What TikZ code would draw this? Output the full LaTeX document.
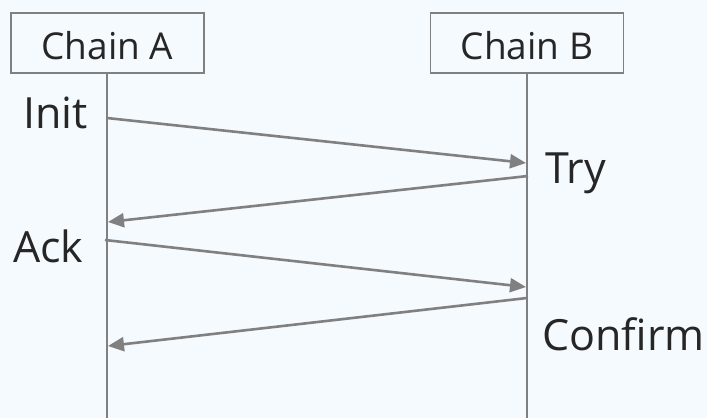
\documentclass[tikz,border=0pt]{standalone}
\usepackage{fontspec}
\setmainfont{Open Sans}
\usetikzlibrary{arrows.meta}
\definecolor{bgc}{HTML}{F5FAFE}
\definecolor{linec}{HTML}{808080}
\definecolor{txtc}{HTML}{262626}
\tikzset{
  actor/.style={draw=linec, line width=1.8pt, fill=bgc, minimum width=193pt, minimum height=60pt, inner sep=0pt, text height=32pt, text depth=0pt, text=txtc, font=\fontsize{37}{42}\selectfont},
  life/.style={draw=linec, line width=2.7pt},
  msg/.style={draw=linec, line width=2.6pt, -{Triangle[length=16pt,width=14pt]}},
  lbl/.style={anchor=base west, inner sep=0pt, text=txtc, font=\fontsize{43}{48}\selectfont}
}
\begin{document}
\begin{tikzpicture}[x=1pt,y=-1pt]
\fill[bgc] (0,0) rectangle (707,418);
\useasboundingbox (0,0) rectangle (707,418);
\coordinate (abot) at (107,418);
\coordinate (bbot) at (527,418);
\draw[life] (107,73) -- (abot);
\draw[life] (527,73) -- (bbot);
\node[actor] (A) at (107.5,43) {Chain A};
\node[actor] (B) at (527,43) {Chain B};
\coordinate (a1) at (107,118);
\coordinate (b1) at (526,163);
\coordinate (b2) at (528,176);
\coordinate (a2) at (108,222);
\coordinate (a3) at (105,240);
\coordinate (b3) at (526,287);
\coordinate (b4) at (527,298);
\coordinate (a4) at (108,346);
\draw[msg] (a1) -- (b1);
\draw[msg] (b2) -- (a2);
\draw[msg] (a3) -- (b3);
\draw[msg] (b4) -- (a4);
\node[lbl] (init) at (23,128) {Init};
\node[lbl] (try) at (545,183) {Try};
\node[lbl] (ack) at (13,262) {Ack};
\node[lbl] (confirm) at (542,350) {Confirm};
\end{tikzpicture}
\end{document}
